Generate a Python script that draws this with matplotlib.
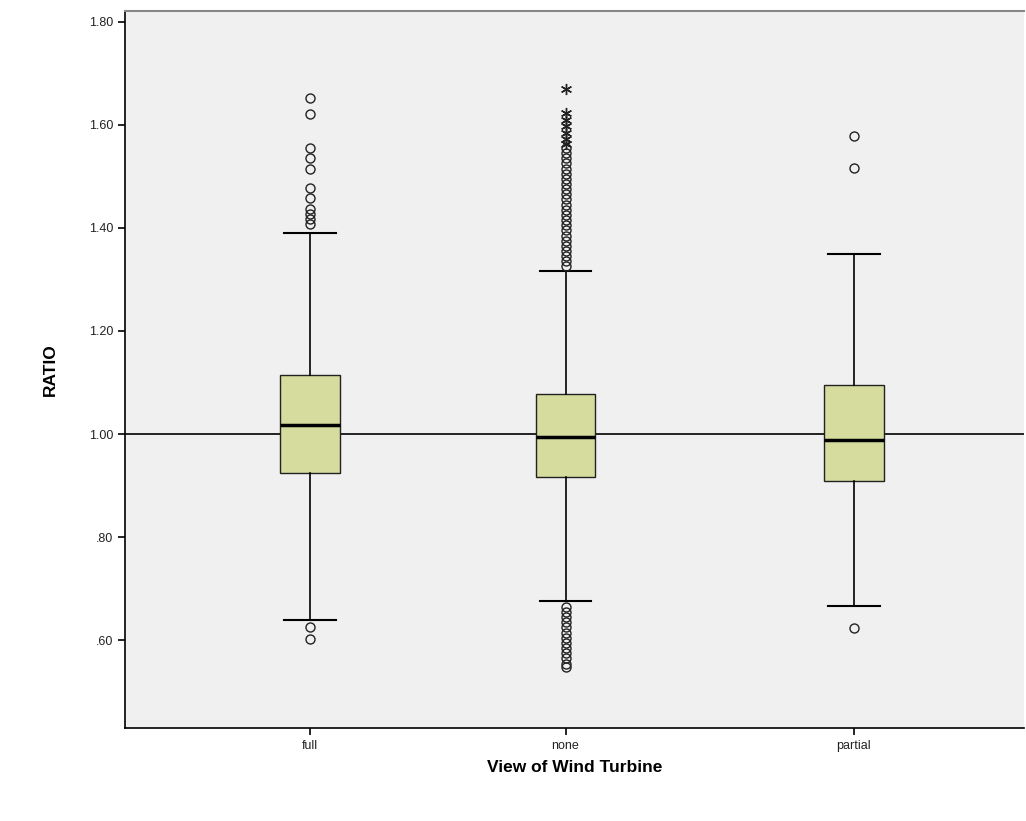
import matplotlib
matplotlib.use("Agg")
from matplotlib import pyplot as plt
from matplotlib.ticker import FixedLocator, FuncFormatter

plt.rcParams['font.family'] = ['Liberation Sans', 'DejaVu Sans']

# groups on the x axis
groups = ["full", "none", "partial"]

# box statistics
whisker_low = [0.640, 0.677, 0.666]
q1 = [0.925, 0.917, 0.909]
medians = [1.017, 0.994, 0.988]
q3 = [1.114, 1.077, 1.095]
whisker_high = [1.390, 1.317, 1.350]

# outliers (circles)
full_out = [1.651, 1.620, 1.555, 1.535, 1.514, 1.477, 1.458, 1.437,
            1.427, 1.417, 1.408, 0.625, 0.602]
none_out = [1.555, 1.545, 1.535, 1.525, 1.515, 1.505, 1.495, 1.485,
            1.475, 1.465, 1.455, 1.445, 1.435, 1.425, 1.415, 1.405,
            1.395, 1.385, 1.375, 1.365, 1.355, 1.345, 1.335, 1.325,
            0.665, 0.655, 0.645, 0.635, 0.625, 0.615, 0.605, 0.595,
            0.585, 0.575, 0.565, 0.555, 0.548]
partial_out = [1.578, 1.516, 0.623]
outliers = [full_out, none_out, partial_out]

# extreme values (stars)
full_ext = []
none_ext = [1.669, 1.622, 1.610, 1.597, 1.584, 1.572, 1.562]
partial_ext = []
extremes = [full_ext, none_ext, partial_ext]

yticks = [0.6, 0.8, 1.0, 1.2, 1.4, 1.6, 1.8]


def spss_fmt(v, pos):
    s = "%.2f" % v
    if s.startswith("0"):
        s = s[1:]
    return s


fig = plt.figure(figsize=(10.26, 8.21), dpi=100)
ax = fig.add_axes([0.1218, 0.1133, 0.876, 0.873])
ax.set_facecolor("#f0f0f0")

positions = [1, 1.94, 3]
stats = []
for i in range(len(groups)):
    stats.append({"whislo": whisker_low[i], "q1": q1[i], "med": medians[i],
                  "q3": q3[i], "whishi": whisker_high[i], "fliers": []})

# reference line at 1.00
ax.axhline(1.0, color="black", lw=1.2, zorder=1)

ax.bxp(stats, positions=positions, widths=0.22, patch_artist=True,
       showfliers=False,
       boxprops=dict(facecolor="#d6dc9e", edgecolor="#222222", lw=1.0),
       medianprops=dict(color="black", lw=2.5),
       whiskerprops=dict(color="black", lw=1.2),
       capprops=dict(color="black", lw=1.5),
       capwidths=0.19, zorder=3)

for p, vals in zip(positions, outliers):
    ax.plot([p] * len(vals), vals, linestyle="none", marker="o",
            markersize=6.5, markerfacecolor="none", markeredgecolor="#222222",
            markeredgewidth=1.0, zorder=4)
for p, vals in zip(positions, extremes):
    if vals:
        ax.plot([p] * len(vals), vals, linestyle="none", marker=(6, 2, 0),
                markersize=8, markeredgewidth=1.0, color="#222222", zorder=4)

ax.set_xlim(0.32, 3.625)
ax.set_ylim(0.43, 1.82)
ax.set_xticks(positions)
ax.set_xticklabels(groups)
ax.yaxis.set_major_locator(FixedLocator(yticks))
ax.yaxis.set_major_formatter(FuncFormatter(spss_fmt))
ax.tick_params(axis="both", labelsize=9, length=5, width=1.2, color="black",
               labelcolor="#222222")

ax.spines["right"].set_visible(False)
ax.spines["top"].set_color("#888888")
ax.spines["top"].set_linewidth(1.5)
ax.spines["left"].set_linewidth(1.2)
ax.spines["bottom"].set_linewidth(1.2)

ax.set_xlabel("View of Wind Turbine", fontsize=12.5, fontweight="bold", labelpad=6)
ax.set_ylabel("RATIO", fontsize=12.5, fontweight="bold", labelpad=22)

fig.savefig("out.png", dpi=100)
